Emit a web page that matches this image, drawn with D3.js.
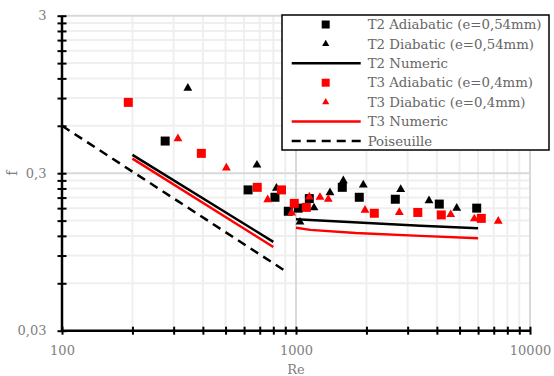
<!DOCTYPE html>
<html>
<head>
<meta charset="utf-8">
<script src="https://cdn.jsdelivr.net/npm/d3@7"></script>
<style>
  body { margin: 0; background: #fff; }
  svg { display: block; }
</style>
</head>
<body>
<script>
// data (Re, f)
var t2AdiaRe = [276, 624, 813, 927, 1023, 1140, 1577, 1864, 2657, 4096, 5919];
var t2AdiaF  = [0.480, 0.235, 0.211, 0.172, 0.180, 0.207, 0.244, 0.211, 0.205, 0.191, 0.180];

var t2DiaRe = [345, 681, 825, 1040, 1194, 1397, 1593, 1939, 2802, 3702, 4863];
var t2DiaF  = [1.04, 0.338, 0.241, 0.147, 0.181, 0.226, 0.269, 0.253, 0.237, 0.201, 0.180];

var t3AdiaRe = [192, 394, 683, 867, 983, 1107, 2161, 3315, 4177, 6193];
var t3AdiaF  = [0.845, 0.401, 0.244, 0.235, 0.193, 0.182, 0.167, 0.169, 0.163, 0.155];

var t3DiaRe = [313, 504, 757, 958, 1140, 1266, 1374, 1972, 2764, 4583, 5781, 7317];
var t3DiaF  = [0.497, 0.324, 0.204, 0.168, 0.212, 0.211, 0.205, 0.175, 0.169, 0.164, 0.154, 0.149];

// numeric curves: laminar part and turbulent part
var t2NumLamRe = [200, 800],  t2NumLamF = [0.392, 0.110];
var t2NumTurbRe = [1000, 3400, 6000], t2NumTurbF = [0.153, 0.139, 0.134];
var t3NumLamRe = [200, 800],  t3NumLamF = [0.371, 0.102];
var t3NumTurbRe = [1000, 1150, 1800, 3400, 6000], t3NumTurbF = [0.135, 0.131, 0.125, 0.120, 0.116];

var poisRe = [100, 900], poisF = [0.60, 0.0718];

var xMajor = [100, 1000, 10000];
var yMajor = [0.03, 0.3, 3];
var xLabels = ["100", "1000", "10000"];
var yLabels = ["0,03", "0,3", "3"];

var legendNames = ["T2 Adiabatic (e=0,54mm)", "T2 Diabatic (e=0,54mm)", "T2 Numeric",
                   "T3 Adiabatic (e=0,4mm)", "T3 Diabatic (e=0,4mm)", "T3 Numeric", "Poiseuille"];

var W = 554, H = 376;
var svg = d3.select('body').append('svg').attr('width', W).attr('height', H);

var x = d3.scaleLog().domain([100, 10000]).range([62, 530]);
var y = d3.scaleLog().domain([0.03, 3]).range([330.7, 15.7]);

// minor ticks at 2..9 times each decade start
var xMinor = [], yMinor = [];
[100, 1000].forEach(function (b) { for (var k = 2; k <= 9; k++) xMinor.push(b * k); });
[0.03, 0.3].forEach(function (b) { for (var k = 2; k <= 9; k++) yMinor.push(+(b * k).toFixed(3)); });

var grid = svg.append('g');
grid.selectAll('.vmin').data(xMinor).enter().append('line')
  .attr('x1', d => x(d)).attr('x2', d => x(d)).attr('y1', y(3)).attr('y2', y(0.03))
  .attr('stroke', '#efefef').attr('stroke-width', 2);
grid.selectAll('.hmin').data(yMinor).enter().append('line')
  .attr('x1', x(100)).attr('x2', x(10000)).attr('y1', d => y(d)).attr('y2', d => y(d))
  .attr('stroke', '#efefef').attr('stroke-width', 2);
grid.selectAll('.vmaj').data(xMajor.slice(1)).enter().append('line')
  .attr('x1', d => x(d)).attr('x2', d => x(d)).attr('y1', y(3)).attr('y2', y(0.03))
  .attr('stroke', '#d9d9d9').attr('stroke-width', 2);
grid.selectAll('.hmaj').data(yMajor.slice(1)).enter().append('line')
  .attr('x1', x(100)).attr('x2', x(10000)).attr('y1', d => y(d)).attr('y2', d => y(d))
  .attr('stroke', '#d9d9d9').attr('stroke-width', 2);

// axes
function fmtY(d) { var i = yMajor.indexOf(d); return i < 0 ? "" : yLabels[i]; }
function fmtX(d) { var i = xMajor.indexOf(d); return i < 0 ? "" : xLabels[i]; }

var yAxis = svg.append('g').attr('transform', 'translate(' + x(100) + ',0)')
  .call(d3.axisLeft(y).tickValues(yMajor.concat(yMinor)).tickFormat(fmtY).tickSize(4.5).tickPadding(11));
yAxis.select('.domain').attr('stroke', '#000').attr('stroke-width', 2.5).attr('d', 'M0,' + y(3) + 'V' + y(0.03));
yAxis.selectAll('.tick line').attr('x1', -4.5).attr('x2', 4.5).attr('stroke-width', 2);
yAxis.selectAll('.tick text').attr('fill', '#7f7f7f').style('font-family', 'DejaVu Serif').style('font-size', '13px');

var xAxis = svg.append('g').attr('transform', 'translate(0,' + y(0.03) + ')')
  .call(d3.axisBottom(x).tickValues(xMajor.concat(xMinor)).tickFormat(fmtX).tickSize(4).tickPadding(11));
xAxis.select('.domain').attr('stroke', '#000').attr('stroke-width', 2.5).attr('d', 'M' + x(100) + ',0H' + x(10000));
xAxis.selectAll('.tick line').attr('y1', -4).attr('y2', 4).attr('stroke-width', 2);
xAxis.selectAll('.tick text').attr('fill', '#7f7f7f').style('font-family', 'DejaVu Serif').style('font-size', '13px');

svg.append('text').attr('x', x(1000)).attr('y', 374).attr('text-anchor', 'middle')
  .attr('fill', '#7f7f7f').style('font-family', 'DejaVu Serif').style('font-size', '13px').text('Re');
svg.append('text').attr('transform', 'translate(17,' + y(0.3) + ') rotate(-90)').attr('text-anchor', 'middle')
  .attr('fill', '#7f7f7f').style('font-family', 'DejaVu Serif').style('font-size', '14px').text('f');

// lines
var line = d3.line().x(d => x(d[0])).y(d => y(d[1]));
function zip(a, b) { return a.map(function (v, i) { return [v, b[i]]; }); }

var lines = [
  { pts: zip(poisRe, poisF), color: '#000', dash: '9,6' },
  { pts: zip(t3NumLamRe, t3NumLamF), color: '#ff0000' },
  { pts: zip(t3NumTurbRe, t3NumTurbF), color: '#ff0000' },
  { pts: zip(t2NumLamRe, t2NumLamF), color: '#000' },
  { pts: zip(t2NumTurbRe, t2NumTurbF), color: '#000' }
];
svg.selectAll('.series').data(lines).enter().append('path')
  .attr('d', d => line(d.pts)).attr('fill', 'none')
  .attr('stroke', d => d.color).attr('stroke-width', 2.5)
  .attr('stroke-dasharray', d => d.dash || null);

// markers
var sq = d3.symbol().type(d3.symbolSquare).size(81);
var tri = d3.symbol().type(d3.symbolTriangle).size(34);

function drawPts(re, f, sym, color) {
  svg.append('g').selectAll('path').data(zip(re, f)).enter().append('path')
    .attr('d', sym).attr('fill', color)
    .attr('transform', d => 'translate(' + x(d[0]) + ',' + y(d[1]) + ')');
}
drawPts(t2AdiaRe, t2AdiaF, sq, '#000');
drawPts(t2DiaRe, t2DiaF, tri, '#000');
drawPts(t3AdiaRe, t3AdiaF, sq, '#ff0000');
drawPts(t3DiaRe, t3DiaF, tri, '#ff0000');

// legend
var lg = svg.append('g');
lg.append('rect').attr('x', 282).attr('y', 15).attr('width', 267).attr('height', 135)
  .attr('fill', '#fff').attr('stroke', '#000').attr('stroke-width', 1.5);

var legendKinds = [
  { type: 'sq', color: '#000' }, { type: 'tri', color: '#000' }, { type: 'line', color: '#000' },
  { type: 'sq', color: '#ff0000' }, { type: 'tri', color: '#ff0000' }, { type: 'line', color: '#ff0000' },
  { type: 'dash', color: '#000' }
];
var legSq = d3.symbol().type(d3.symbolSquare).size(64);
var legTri = d3.symbol().type(d3.symbolTriangle).size(22);
legendNames.forEach(function (name, i) {
  var cy = 24.5 + i * 19.4;
  var k = legendKinds[i];
  if (k.type === 'sq' || k.type === 'tri') {
    lg.append('path').attr('d', k.type === 'sq' ? legSq : legTri).attr('fill', k.color)
      .attr('transform', 'translate(325.7,' + cy + ')');
  } else {
    lg.append('line').attr('x1', 291.7).attr('x2', 360.7).attr('y1', cy).attr('y2', cy)
      .attr('stroke', k.color).attr('stroke-width', 2.5)
      .attr('stroke-dasharray', k.type === 'dash' ? '9,6' : null);
  }
  lg.append('text').attr('x', 367.7).attr('y', cy).attr('dy', '0.35em')
    .attr('fill', '#666').style('font-family', 'DejaVu Serif').style('font-size', '13.3px').text(name);
});
</script>
</body>
</html>
